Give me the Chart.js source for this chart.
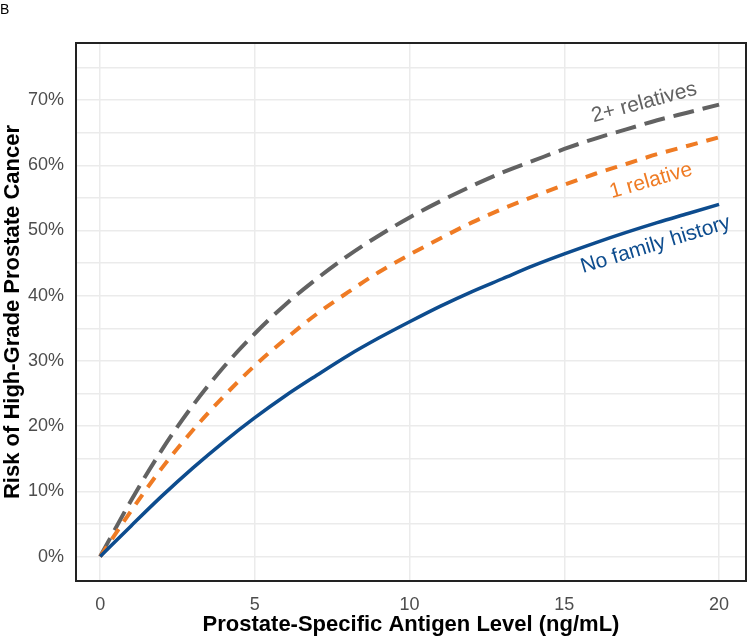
<!DOCTYPE html>
<html>
<head>
<meta charset="utf-8">
<script src="https://cdn.jsdelivr.net/npm/chart.js@4"></script>
<style>
  body { margin: 0; background: #fff; }
  canvas { display: block; }
</style>
</head>
<body>
<canvas id="risk" width="750" height="638"></canvas>
<script>
// PSA level (ng/mL)
var psa = [0,1,2,3,4,5,6,7,8,9,10,11,12,13,14,15,16,17,18,19,20];
// risk of high-grade prostate cancer (%)
var noFamily = [0,4.7,9.3,13.6,17.6,21.3,24.7,27.8,30.8,33.5,36.0,38.4,40.6,42.6,44.6,46.4,48.1,49.7,51.2,52.6,54.0];
var oneRelative = [0,7.0,13.6,19.4,24.6,29.3,33.4,37.2,40.5,43.6,46.3,48.8,51.2,53.3,55.2,57.0,58.7,60.2,61.7,63.0,64.3];
var twoPlus = [0,8.6,16.4,23.2,29.1,34.2,38.7,42.6,46.1,49.2,52.0,54.5,56.8,58.9,60.7,62.5,64.1,65.5,66.9,68.1,69.3];

var xTicks = [0,5,10,15,20];
var yGrid = [0,5,10,15,20,25,30,35,40,45,50,55,60,65,70,75];

var FONT = "'Liberation Sans', Arial, sans-serif";
var BLUE = '#0d4c8e', ORANGE = '#ef7b24', GRAY = '#626262';

function pts(ys) {
  return psa.map(function (x, i) { return {x: x, y: ys[i]}; });
}

// curve labels, anchored in data units
var curveLabels = [
  {text: '2+ relatives', x: 17.58, y: 69.6, angle: -15, color: GRAY},
  {text: '1 relative', x: 17.8, y: 57.6, angle: -16, color: ORANGE},
  {text: 'No family history', x: 17.95, y: 47.8, angle: -17, color: BLUE}
];

var extras = {
  id: 'extras',
  afterDatasetsDraw: function (chart) {
    var ctx = chart.ctx, a = chart.chartArea;
    var xs = chart.scales.x, ys = chart.scales.y;
    ctx.save();
    ctx.font = '21px ' + FONT;
    ctx.textAlign = 'center';
    ctx.textBaseline = 'middle';
    curveLabels.forEach(function (l) {
      ctx.save();
      ctx.translate(xs.getPixelForValue(l.x), ys.getPixelForValue(l.y));
      ctx.rotate(l.angle * Math.PI / 180);
      ctx.fillStyle = l.color;
      ctx.fillText(l.text, 0, 0);
      ctx.restore();
    });
    // panel box
    ctx.strokeStyle = '#222';
    ctx.lineWidth = 2;
    ctx.strokeRect(a.left, a.top, a.right - a.left, a.bottom - a.top);
    // panel letter
    ctx.fillStyle = '#000';
    ctx.font = '14px ' + FONT;
    ctx.textAlign = 'left';
    ctx.textBaseline = 'alphabetic';
    ctx.fillText('B', 0, 14);
    ctx.restore();
  }
};

var data = {
  datasets: [{
    label: 'No family history',
    data: pts(noFamily),
    borderColor: BLUE,
    borderWidth: 3.5
  }, {
    label: '1 relative',
    data: pts(oneRelative),
    borderColor: ORANGE,
    borderWidth: 4,
    borderDash: [12, 9]
  }, {
    label: '2+ relatives',
    data: pts(twoPlus),
    borderColor: GRAY,
    borderWidth: 4,
    borderDash: [21, 9]
  }]
};

var options = {
  responsive: false,
  animation: false,
  layout: { padding: { top: 43, right: 4, left: 0, bottom: 0 } },
  elements: {
    point: { radius: 0 },
    line: { cubicInterpolationMode: 'monotone', fill: false }
  },
  plugins: {
    legend: { display: false },
    tooltip: { enabled: false }
  },
  scales: {
    x: {
      type: 'linear',
      min: -0.78,
      max: 20.87,
      afterBuildTicks: function (s) { s.ticks = xTicks.map(function (v) { return {value: v}; }); },
      afterFit: function (s) { s.height = 57; },
      grid: { color: '#ebebeb', lineWidth: 1.5, drawTicks: false },
      border: { display: false },
      ticks: { color: '#4d4d4d', font: { family: FONT, size: 18 }, padding: 13, autoSkip: false, maxRotation: 0 },
      title: {
        display: true,
        text: 'Prostate-Specific Antigen Level (ng/mL)',
        color: '#000',
        font: { family: FONT, size: 22, weight: 'bold' },
        padding: 0
      }
    },
    y: {
      type: 'linear',
      min: -3.75,
      max: 78.75,
      afterBuildTicks: function (s) { s.ticks = yGrid.map(function (v) { return {value: v}; }); },
      afterFit: function (s) { s.width = 76; },
      grid: { color: '#ebebeb', lineWidth: 1.5, drawTicks: false },
      border: { display: false },
      ticks: {
        color: '#4d4d4d',
        font: { family: FONT, size: 18 },
        padding: 12,
        autoSkip: false,
        callback: function (v) { return v % 10 === 0 ? v + '%' : ''; }
      },
      title: {
        display: true,
        text: 'Risk of High-Grade Prostate Cancer',
        color: '#000',
        font: { family: FONT, size: 22, weight: 'bold' },
        padding: 0
      }
    }
  }
};

var riskChart = new Chart(document.getElementById('risk'), {
  type: 'line',
  data: data,
  options: options,
  plugins: [extras]
});
</script>
</body>
</html>
